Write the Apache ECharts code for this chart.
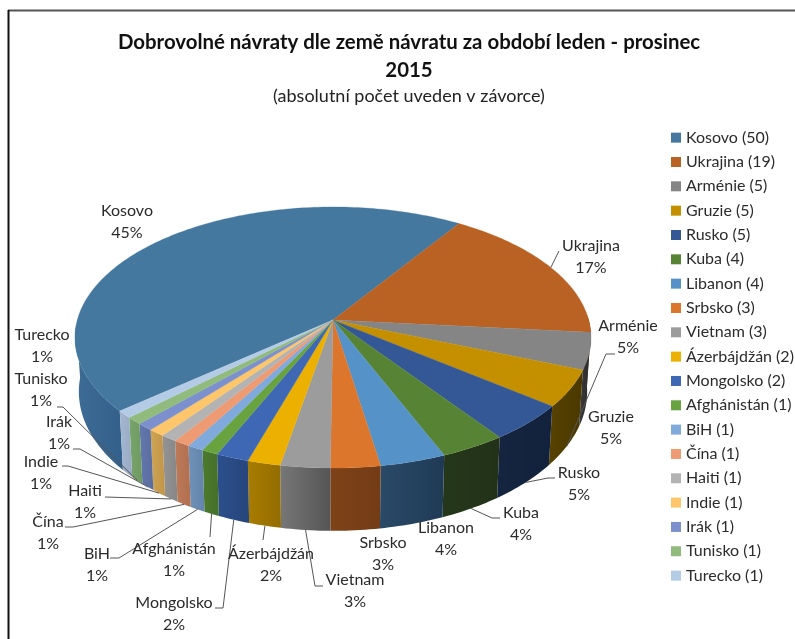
<!DOCTYPE html>
<html>
<head>
<meta charset="utf-8">
<style>
  html, body { margin: 0; padding: 0; background: #fff; }
  #main { width: 795px; height: 639px; }
</style>
<script src="https://cdn.jsdelivr.net/npm/echarts@6/dist/echarts.min.js"></script>
</head>
<body>
<div id="main"></div>
<script>
'use strict';

// data
const countries = ['Kosovo', 'Ukrajina', 'Arménie', 'Gruzie', 'Rusko', 'Kuba', 'Libanon', 'Srbsko', 'Vietnam',
    'Ázerbájdžán', 'Mongolsko', 'Afghánistán', 'BiH', 'Čína', 'Haiti', 'Indie', 'Irák', 'Tunisko', 'Turecko'];
const counts = [50, 19, 5, 5, 5, 4, 4, 3, 3, 2, 2, 1, 1, 1, 1, 1, 1, 1, 1];
const percents = ['45%', '17%', '5%', '5%', '5%', '4%', '4%', '3%', '3%', '2%', '2%', '1%', '1%', '1%', '1%', '1%', '1%', '1%', '1%'];

// top face colours, and light/dark ends of the wall gradient
const topColors = ['#44789f', '#b96223', '#858585', '#c49000', '#345796', '#578434', '#5592c8', '#dc762c', '#9c9c9c',
    '#ecb000', '#3f68b4', '#68a340', '#7faadb', '#ee9a72', '#b3b3b3', '#fdc66a', '#7b90cc', '#90bb7c', '#b4cbe6'];
const wallLeft = ['#3d6c96', '#6b3a16', '#3a3a3a', '#574200', '#15253f', '#25371a', '#2a4a68', '#7f4218', '#777777',
    '#a87c00', '#2c4f8c', '#4c7a2c', '#6f92b8', '#bd7a58', '#949494', '#d0a454', '#6377ad', '#78a56c', '#a4b6d0'];
const wallRight = ['#33608a', '#6b3a16', '#2a2a2a', '#4a3800', '#13223c', '#22321a', '#1f3a55', '#733c16', '#555555',
    '#946d00', '#27457c', '#44702a', '#6484aa', '#b06f50', '#868686', '#c09548', '#5a6da0', '#6e9a62', '#98aac4'];

// label centre (first line) and the fixed part of each leader line
const labelPos = [[127, 211], [591, 246], [628, 326], [611, 417], [579, 473], [521, 513], [446, 528], [383, 543], [355, 580],
    [271, 554], [174, 603], [174, 549], [97, 554], [48, 522], [85, 491], [41, 462], [59, 422], [41, 379], [42, 335]];
const leaders = [null, [[559, 251]], null, [[615, 354], [606, 354]], [[555, 478], [548, 478]], [[500, 518], [492, 518]], null, null,
    [[323, 586], [315, 586]], [[263, 540]], [[215, 608], [223, 608]], [[210, 537]], [[110, 558], [119, 558]], [[65, 527], [73, 527]],
    [[105, 497]], [[62, 466], [68, 466]], [[73, 449], [80, 449]], [[57, 407], [63, 407]], null];

// pie projection: the disc is tilted, so the back edge is squeezed
const apexX = 333, apexY = 320;
const discA = 255.7, discB = 128.2, persp = 0.134;
const startDeg = -130.4;
const baseScaleX = 0.985, baseScaleY = 1.066, baseDrop = 53;
const total = counts.reduce((a, b) => a + b, 0);

function topPoint(deg) {
    let r = deg * Math.PI / 180;
    let u = Math.sin(r), v = -Math.cos(r);
    let w = 1 - persp * v;
    return [apexX + u * discA / w, apexY + v * discB / w];
}

function basePoint(deg) {
    let p = topPoint(deg);
    return [apexX + (p[0] - apexX) * baseScaleX, apexY + (p[1] - apexY) * baseScaleY + baseDrop];
}

function arc(fn, a0, a1) {
    let pts = [];
    let n = Math.max(2, Math.ceil(Math.abs(a1 - a0)));
    for (let i = 0; i <= n; i++) pts.push(fn(a0 + (a1 - a0) * i / n));
    return pts;
}

function renderSlice(params, api) {
    let i = params.seriesIndex;
    let a0 = startDeg + api.value(0) / total * 360;
    let a1 = a0 + api.value(1) / total * 360;
    let mid = (a0 + a1) / 2;
    let children = [];

    // outer wall, only the part that faces the viewer
    [0, 360].forEach(shift => {
        let w0 = Math.max(a0 + shift, 88), w1 = Math.min(a1 + shift, 268);
        if (w1 <= w0) return;
        children.push({
            type: 'polygon',
            z2: 10,
            shape: { points: arc(topPoint, w0, w1).concat(arc(basePoint, w1, w0)) },
            style: {
                fill: new echarts.graphic.LinearGradient(0, 0, 1, 0, [
                    { offset: 0, color: wallLeft[i] }, { offset: 1, color: wallRight[i] }
                ]),
                stroke: null
            }
        });
    });

    // top face
    children.push({
        type: 'polygon',
        z2: 20,
        shape: { points: [[apexX, apexY]].concat(arc(topPoint, a0, a1)) },
        style: { fill: topColors[i], stroke: topColors[i], lineWidth: 0.3 }
    });

    // leader line, ends on the slice's edge
    if (leaders[i]) {
        let end = i === 1 ? topPoint(mid) : basePoint(mid);
        children.push({
            type: 'polyline',
            z2: 30,
            shape: { points: leaders[i].concat([end]) },
            style: { fill: null, stroke: '#555555', lineWidth: 1 }
        });
    }

    children.push({
        type: 'text',
        z2: 40,
        x: labelPos[i][0],
        y: labelPos[i][1] - 11,
        style: {
            text: countries[i] + '\n' + percents[i],
            fill: '#2b2b2b',
            font: '16px Lato',
            lineHeight: 22,
            align: 'center',
            verticalAlign: 'top'
        }
    });

    return { type: 'group', children: children };
}

const legendNames = countries.map((c, i) => c + ' (' + counts[i] + ')');

let running = 0;
const series = countries.map((c, i) => {
    let item = [running, counts[i]];
    running += counts[i];
    return {
        type: 'custom',
        name: legendNames[i],
        coordinateSystem: 'none',
        itemStyle: { color: topColors[i] },
        renderItem: renderSlice,
        silent: true,
        animation: false,
        data: [item]
    };
});

var myChart = echarts.init(document.getElementById('main'));

var option = {
    animation: false,
    backgroundColor: '#ffffff',
    title: {
        text: 'Dobrovolné návraty dle země návratu za období leden - prosinec\n2015',
        subtext: '(absolutní počet uveden v závorce)',
        left: 404,
        top: 23,
        textAlign: 'center',
        itemGap: 3,
        textStyle: { fontFamily: 'Lato', fontSize: 20.4, fontWeight: 'bold', color: '#111111', lineHeight: 28 },
        subtextStyle: { fontFamily: 'Lato', fontSize: 18, color: '#222222' }
    },
    legend: {
        orient: 'vertical',
        left: 666,
        top: 123,
        icon: 'rect',
        itemWidth: 10,
        itemHeight: 10,
        itemGap: 5,
        selectedMode: false,
        textStyle: { fontFamily: 'Lato', fontSize: 16, color: '#2b2b2b', lineHeight: 19.33 },
        data: legendNames
    },
    graphic: [
        { type: 'line', shape: { x1: 8, y1: 10.5, x2: 795, y2: 10.5 }, style: { stroke: '#555555', lineWidth: 2 } },
        { type: 'line', shape: { x1: 8.5, y1: 10, x2: 8.5, y2: 639 }, style: { stroke: '#111111', lineWidth: 2 } }
    ],
    series: series
};

myChart.setOption(option);
</script>
</body>
</html>
